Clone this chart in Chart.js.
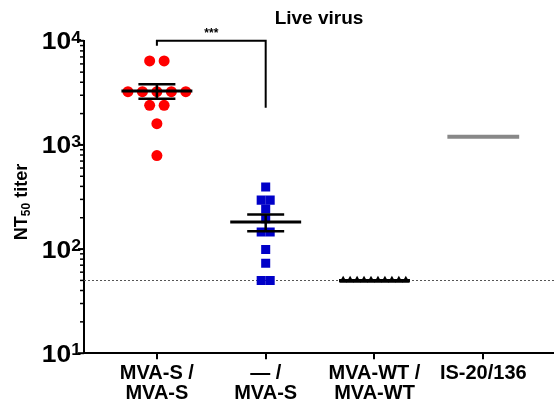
<!DOCTYPE html>
<html>
<head>
<meta charset="utf-8">
<script src="https://cdn.jsdelivr.net/npm/chart.js@4.4.0/dist/chart.umd.min.js"></script>
<style>
    html, body { margin: 0; padding: 0; background: #fff; }
    #wrap { width: 554px; height: 412px; }
</style>
</head>
<body>
<div id="wrap"><canvas id="chart"></canvas></div>
<script>
// grupos do eixo x
var categorias = [['MVA-S /', 'MVA-S'], ['\u2014 /', 'MVA-S'], ['MVA-WT /', 'MVA-WT'], 'IS-20/136'];

// titulos NT50 por animal
var mvaS_mvaS = [6400, 6400, 3250, 3250, 3250, 3250, 3250, 2400, 2400, 1600, 790];
var nada_mvaS = [395, 295, 295, 243, 196, 146, 146, 99, 73, 50, 50];
var wt_wt = [50, 50, 50, 50, 50, 50, 50, 50, 50, 50];
var padrao = [1200]; // soro de referencia IS-20/136

// media e erro padrao de cada grupo
var medias = [3300, 182, 50];
var semSup = [3820, 215, 50];
var semInf = [2770, 148, 50];

var limiteDeteccao = 50;
var yMaiores = [10, 100, 1000, 10000];

// colchete de significancia entre o grupo 1 e o 2
var colcheteX = [1, 1, 2, 2];
var colcheteY = [8950, 10000, 10000, 2270];
var colcheteTexto = '***';

var FONTE = "'Liberation Sans', Arial, sans-serif";

// espalha pontos iguais lado a lado, centrados na categoria
function espalhar(valores, centro, passo) {
    var grupos = {};
    var ordem = [];
    valores.forEach(function (v) {
        if (!grupos[v]) { grupos[v] = 0; ordem.push(v); }
        grupos[v]++;
    });
    var pontos = [];
    ordem.forEach(function (v) {
        var n = grupos[v];
        for (var i = 0; i < n; i++) {
            pontos.push({ x: centro + (i - (n - 1) / 2) * passo, y: v });
        }
    });
    return pontos;
}

function linhaMedia(i, meia) {
    return [{ x: i + 1 - meia, y: medias[i] }, { x: i + 1 + meia, y: medias[i] }];
}

function barraErro(i, meia) {
    var c = i + 1;
    return [
        { x: c - meia, y: semSup[i] }, { x: c + meia, y: semSup[i] }, { x: c, y: null },
        { x: c, y: semSup[i] }, { x: c, y: semInf[i] }, { x: c + 0.01, y: null },
        { x: c - meia, y: semInf[i] }, { x: c + meia, y: semInf[i] }
    ];
}

function linha(dados, cor, largura) {
    return {
        type: 'line', data: dados, borderColor: cor, borderWidth: largura,
        pointRadius: 0, showLine: true, spanGaps: false, fill: false, clip: false, order: 0
    };
}

var datasets = [
    linha(linhaMedia(0, 0.326), '#000', 3),
    linha(barraErro(0, 0.17), '#000', 2.5),
    linha(linhaMedia(1, 0.326), '#000', 3),
    linha(barraErro(1, 0.17), '#000', 2.5),
    linha(linhaMedia(2, 0.326), '#000', 3),
    linha([{ x: 4 - 0.33, y: padrao[0] }, { x: 4 + 0.33, y: padrao[0] }], '#888888', 4),
    linha(colcheteX.map(function (x, i) { return { x: x, y: colcheteY[i] }; }), '#000', 2),
    {
        data: espalhar(mvaS_mvaS, 1, 0.133), backgroundColor: '#ff0000', borderWidth: 0,
        pointRadius: 5.5, pointStyle: 'circle', order: 1
    },
    {
        data: espalhar(nada_mvaS, 2, 0.0826), backgroundColor: '#0000c8', borderWidth: 0,
        pointRadius: 6.4, pointStyle: 'rect', order: 1
    },
    {
        data: espalhar(wt_wt, 3, 0.064), backgroundColor: '#000', borderWidth: 0,
        pointRadius: 4.6, pointStyle: 'triangle', order: 1
    }
];

// linha pontilhada, ticks do eixo y, rotulos e asteriscos
var extras = {
    id: 'extras',
    beforeDatasetsDraw: function (chart) {
        var ctx = chart.ctx, area = chart.chartArea;
        var py = Math.round(chart.scales.y.getPixelForValue(limiteDeteccao)) + 0.5;
        ctx.save();
        ctx.strokeStyle = '#555';
        ctx.lineWidth = 1;
        ctx.setLineDash([2, 2]);
        ctx.beginPath();
        ctx.moveTo(area.left, py);
        ctx.lineTo(area.right, py);
        ctx.stroke();
        ctx.restore();
    },
    afterDraw: function (chart) {
        var ctx = chart.ctx, area = chart.chartArea;
        var ys = chart.scales.y, xs = chart.scales.x;
        ctx.save();
        ctx.strokeStyle = '#000';
        ctx.fillStyle = '#000';
        // ticks menores e maiores
        ys.ticks.forEach(function (t) {
            var py = ys.getPixelForValue(t.value);
            var maior = yMaiores.indexOf(t.value) >= 0;
            ctx.lineWidth = maior ? 2 : 1.5;
            ctx.beginPath();
            ctx.moveTo(area.left - (maior ? 6 : 4), py);
            ctx.lineTo(area.left, py);
            ctx.stroke();
        });
        // rotulos 10^n (um pouco alargados, como no original)
        yMaiores.forEach(function (v) {
            var py = ys.getPixelForValue(v);
            var exp = String(Math.round(Math.log10(v)));
            var esticar = 1.1;
            var xFim = area.left - 3;
            ctx.save();
            ctx.translate(xFim, py);
            ctx.scale(esticar, 1);
            ctx.font = 'bold 16px ' + FONTE;
            var wExp = ctx.measureText(exp).width;
            ctx.textBaseline = 'alphabetic';
            ctx.textAlign = 'left';
            ctx.fillText(exp, -wExp, 2);
            ctx.font = 'bold 24px ' + FONTE;
            ctx.textAlign = 'right';
            ctx.fillText('10', -wExp, 8.5);
            ctx.restore();
        });
        // titulo do eixo y: NT50 titer
        ctx.translate(22, 202);
        ctx.rotate(-Math.PI / 2);
        ctx.textBaseline = 'middle';
        ctx.textAlign = 'left';
        ctx.font = 'bold 18px ' + FONTE;
        var w1 = ctx.measureText('NT').width;
        var w3 = ctx.measureText(' titer').width;
        ctx.font = 'bold 12px ' + FONTE;
        var w2 = ctx.measureText('50').width;
        var x0 = -(w1 + w2 + w3) / 2;
        ctx.font = 'bold 18px ' + FONTE;
        ctx.fillText('NT', x0, 0);
        ctx.fillText(' titer', x0 + w1 + w2, 0);
        ctx.font = 'bold 12px ' + FONTE;
        ctx.fillText('50', x0 + w1, 5);
        ctx.restore();
        // asteriscos do colchete
        ctx.save();
        ctx.font = 'bold 12px ' + FONTE;
        ctx.textAlign = 'center';
        ctx.textBaseline = 'bottom';
        ctx.fillStyle = '#000';
        var cx = (xs.getPixelForValue(colcheteX[0]) + xs.getPixelForValue(colcheteX[3])) / 2;
        ctx.fillText(colcheteTexto, cx, ys.getPixelForValue(colcheteY[1]) - 1);
        ctx.restore();
    }
};

var ctx = document.getElementById('chart').getContext('2d');
var chart = new Chart(ctx, {
    type: 'scatter',
    data: { datasets: datasets },
    plugins: [extras],
    options: {
        responsive: true,
        maintainAspectRatio: false,
        animation: false,
        layout: { autoPadding: false, padding: { left: 76, right: 0, top: 0, bottom: 4 } },
        plugins: {
            legend: { display: false },
            tooltip: { enabled: false },
            title: {
                display: true,
                fullSize: false,
                text: 'Live virus',
                color: '#000',
                font: { family: FONTE, size: 19, weight: 'bold' },
                padding: { top: 7, bottom: 11 }
            }
        },
        scales: {
            x: {
                type: 'linear',
                min: 0.33,
                max: 4.65,
                afterBuildTicks: function (scale) {
                    scale.ticks = [1, 2, 3, 4].map(function (v) { return { value: v }; });
                },
                ticks: {
                    autoSkip: false,
                    maxRotation: 0,
                    padding: 5,
                    color: '#000',
                    font: { family: FONTE, size: 20, weight: 'bold', lineHeight: 0.97 },
                    callback: function (value, index) { return categorias[index]; }
                },
                grid: { display: true, drawOnChartArea: false, color: '#000', lineWidth: 2, tickLength: 6 },
                border: { display: true, color: '#000', width: 2 }
            },
            y: {
                type: 'logarithmic',
                min: 10,
                max: 10000,
                afterBuildTicks: function (scale) {
                    var t = [];
                    for (var e = 1; e <= 4; e++) {
                        for (var k = 1; k <= 9; k++) {
                            var v = k * Math.pow(10, e);
                            if (v <= 10000) t.push({ value: v, major: k === 1 });
                        }
                    }
                    scale.ticks = t;
                },
                ticks: { display: false },
                grid: { display: false },
                border: { display: true, color: '#000', width: 2 }
            }
        }
    }
});
</script>
</body>
</html>
